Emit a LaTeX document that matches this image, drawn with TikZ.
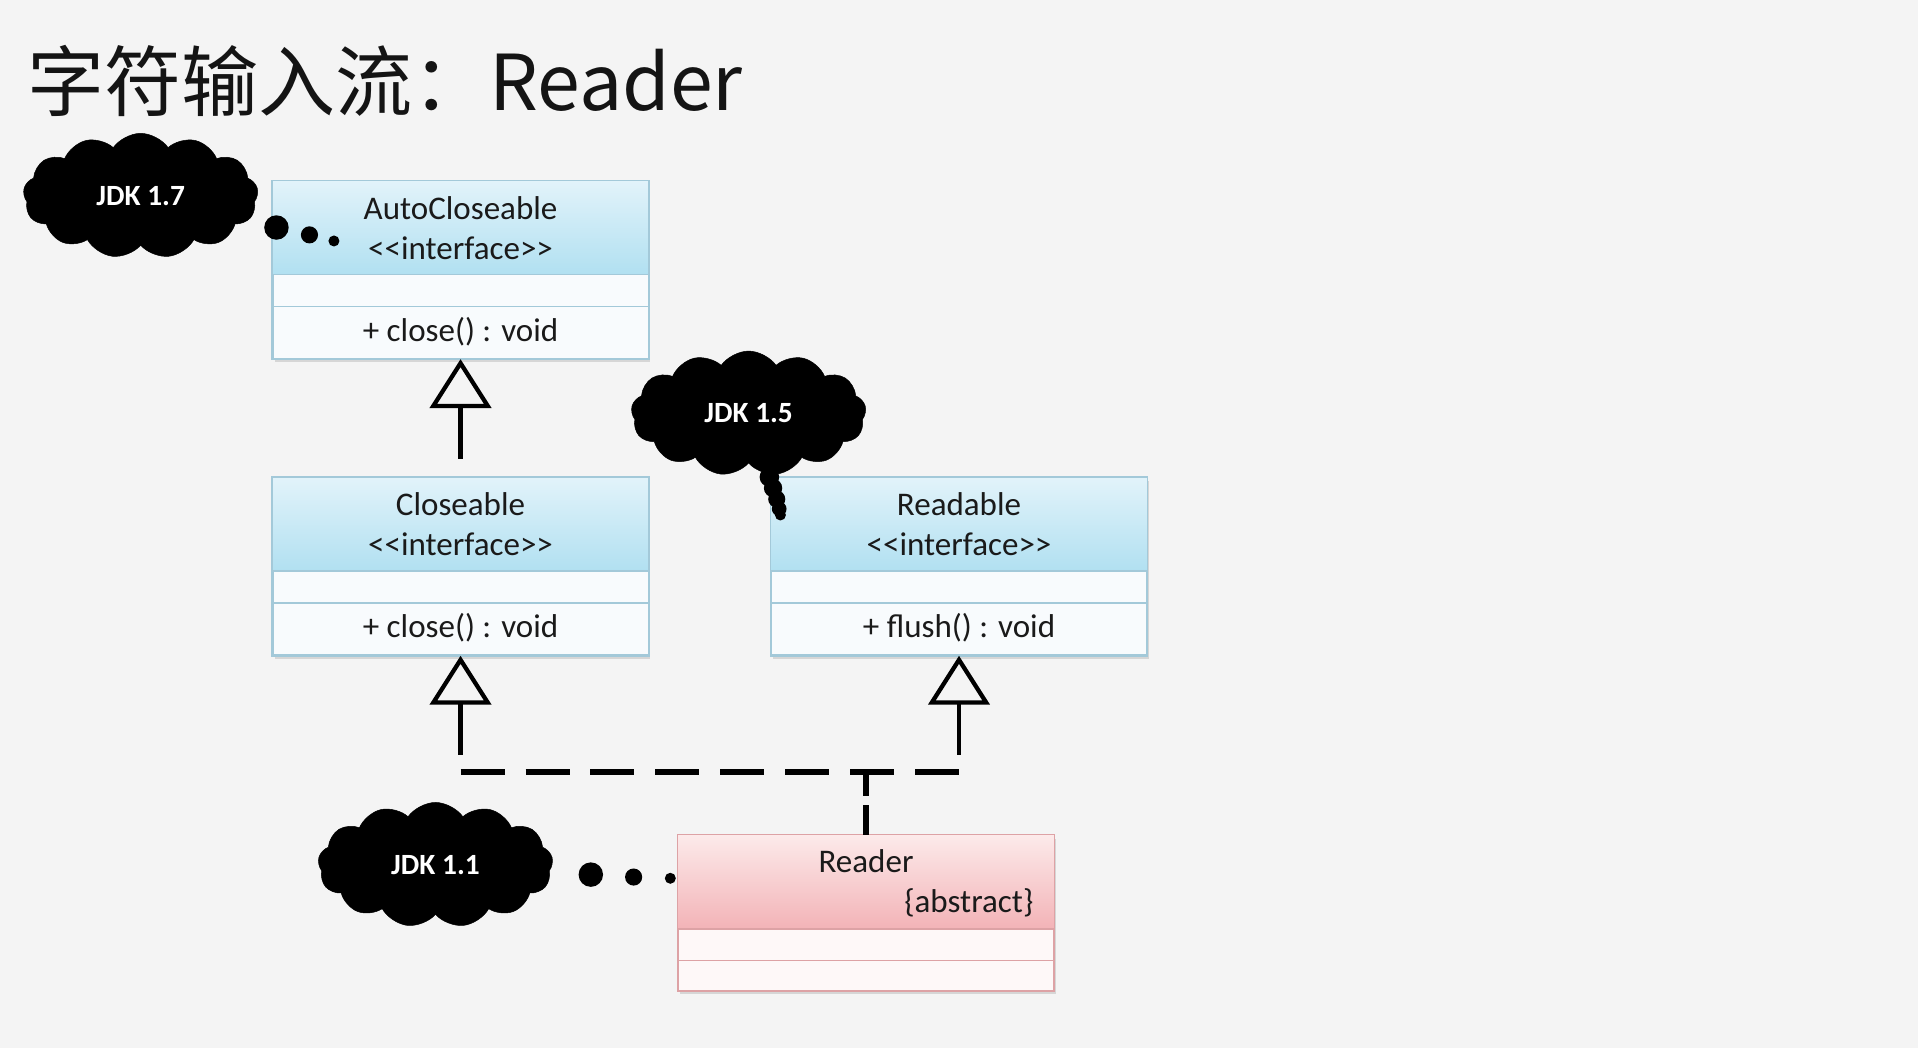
\documentclass[tikz,border=0pt]{standalone}
\usepackage{fontspec}
\setmainfont{Carlito}
\newfontfamily\cjk{Noto Sans CJK SC}
\usetikzlibrary{shapes.symbols,arrows.meta,shadows}
\definecolor{bg}{HTML}{F4F4F4}
\definecolor{bluetop}{HTML}{E2F3FA}
\definecolor{bluebot}{HTML}{B1E0F1}
\definecolor{blueline}{HTML}{A3C9D9}
\definecolor{bluecomp}{HTML}{F8FBFD}
\definecolor{pinktop}{HTML}{FCEAEA}
\definecolor{pinkbot}{HTML}{F3B3B7}
\definecolor{pinkline}{HTML}{DDA2A5}
\definecolor{pinkcomp}{HTML}{FEF8F8}
\definecolor{ink}{HTML}{1A1A1A}
\newcommand\classparts[4]{%
  \shade[top color=#2,bottom color=#3] (#1.north west) rectangle ([yshift=-77pt]#1.north east);
  \draw[#4,line width=1.2pt] ([yshift=-77pt]#1.north west) -- ([yshift=-77pt]#1.north east);
  \draw[#4,line width=1.2pt] ([yshift=-103pt]#1.north west) -- ([yshift=-103pt]#1.north east);
  \draw[#4,line width=1.2pt] (#1.north west) rectangle (#1.south east);
}
\begin{document}
\begin{tikzpicture}[x=1pt,y=-1pt,
  classbox/.style={rectangle, minimum width=307pt, minimum height=145pt, inner sep=0pt,
    fill=bluecomp, draw=blueline, line width=1.2pt,
    drop shadow={shadow xshift=1.5pt, shadow yshift=-3pt, opacity=0.25}},
  boxtext/.style={text=ink, font=\fontsize{27}{30}\selectfont, inner sep=0pt},
  jdkcloud/.style={cloud, cloud puffs=13, cloud puff arc=110, aspect=1.9, fill=black, draw=black,
    minimum width=192pt, minimum height=102pt, inner sep=0pt, text=white,
    font=\fontsize{24}{26}\selectfont\bfseries},
  gen/.style={line width=3.5pt, draw=black, -{Triangle[open, length=40pt, width=50pt]}},
  realize/.style={line width=5pt, draw=black},
]
\useasboundingbox (0,0) rectangle (1568,857);
\fill[bg] (0,0) rectangle (1568,857);

\node[anchor=base west, font=\cjk\fontsize{63}{70}\selectfont, text=black!92, inner sep=0pt] (title) at (22,90) {字符输入流：Reader};

% class boxes
\node[classbox] (auto) at (376.5,220.5) {};
\classparts{auto}{bluetop}{bluebot}{blueline}
\node[classbox] (close) at (376.5,463) {};
\classparts{close}{bluetop}{bluebot}{blueline}
\node[classbox] (read) at (784,463) {};
\classparts{read}{bluetop}{bluebot}{blueline}
\node[classbox, minimum height=127pt, fill=pinkcomp, draw=pinkline] (reader) at (708,746.5) {};
\classparts{reader}{pinktop}{pinkbot}{pinkline}

\node[boxtext] (autoname) at (376.5,170) {AutoCloseable};
\node[boxtext] (autost) at (376.5,203) {<\kern0pt<interface>\kern0pt>};
\node[boxtext] (autom) at (376.5,271) {+ close() : void};
\node[boxtext] (closename) at (376.5,412) {Closeable};
\node[boxtext] (closest) at (376.5,445) {<\kern0pt<interface>\kern0pt>};
\node[boxtext] (closem) at (376.5,513) {+ close() : void};
\node[boxtext] (readname) at (784,412) {Readable};
\node[boxtext] (readst) at (784,445) {<\kern0pt<interface>\kern0pt>};
\node[boxtext] (readm) at (784,513) {+ flush() : void};
\node[boxtext] (readername) at (708,704) {Reader};
\node[boxtext, anchor=east] (readerab) at (845,738) {\{abstract\}};

% clouds
\node[jdkcloud] (c17) at (115,160) {JDK 1.7};
\node[jdkcloud] (c15) at (612,338) {JDK 1.5};
\node[jdkcloud] (c11) at (356,707) {JDK 1.1};
\fill (226,186) circle (10pt);
\fill (253,192) circle (7pt);
\fill (273,197) circle (4.5pt);
\fill (483,715) circle (10pt);
\fill (518,717) circle (7pt);
\fill (548,718) circle (4.5pt);
\fill (629,390) circle (8pt);
\fill (632,399) circle (7.5pt);
\fill (635,408) circle (7pt);
\fill (637,416) circle (6pt);
\fill (638,421) circle (4.5pt);

% connectors
\coordinate (jl) at (376.5,631);
\coordinate (jr) at (784,631);
\coordinate (jm) at (708,631);
\draw[gen, shorten <=15pt] (close.north) -- (auto.south);
\draw[gen] ([yshift=14pt]jl) -- (close.south);
\draw[gen] ([yshift=14pt]jr) -- (read.south);
\draw[realize, dash pattern=on 36pt off 17.1pt] (jl) -- (jr);
\draw[realize, dash pattern=on 24pt off 8pt] (reader.north) -- (jm);
\end{tikzpicture}
\end{document}
